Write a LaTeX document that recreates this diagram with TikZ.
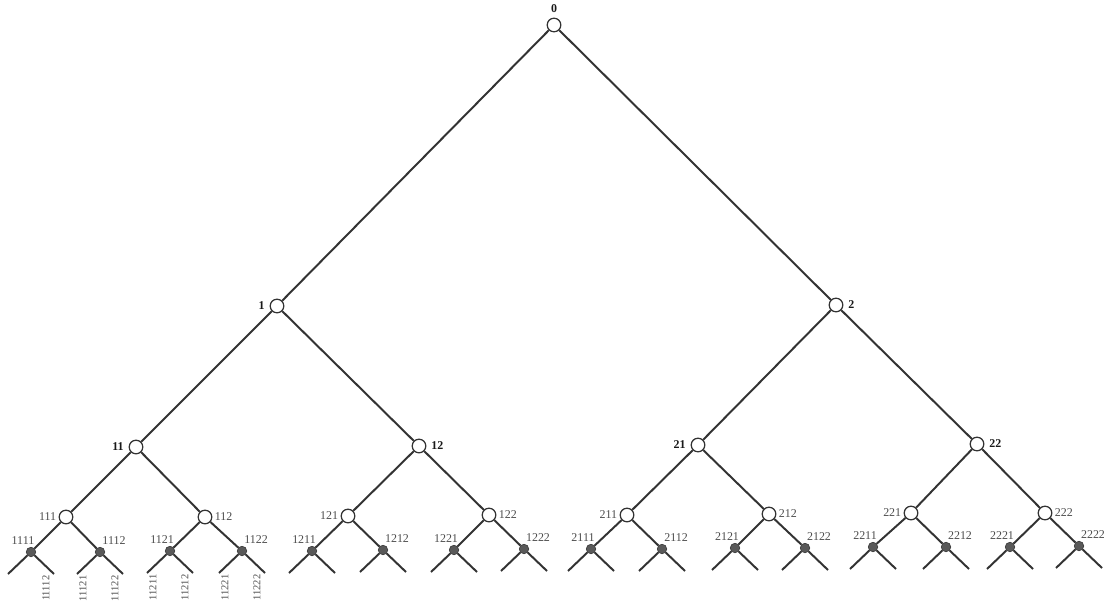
\documentclass[tikz,border=0pt]{standalone}
\usepackage{fontspec}
\setmainfont{Liberation Serif}
\usetikzlibrary{calc}

\begin{document}
\begin{tikzpicture}[
    x=0.025cm, y=-0.025cm,
    edge/.style={draw=black!80, line width=1.4pt},
    open/.style={circle, draw=black!80, line width=0.9pt, fill=white, inner sep=0pt, minimum size=0.34cm},
    dot/.style={circle, draw=black!80, fill=black!65, inner sep=0pt, minimum size=0.24cm},
    big/.style={font=\fontsize{8.5}{10}\selectfont\bfseries, text=black!90},
    small/.style={font=\fontsize{8.5}{10}\selectfont, text=black!70, inner sep=1.5pt},
    leaflbl/.style={font=\fontsize{7.5}{9}\selectfont, text=black!70, inner sep=1pt, rotate=90, anchor=east}
]
\useasboundingbox (0,0) rectangle (1104,605);

% upper levels
\node[open, label={[big]above:0}] (n0) at (554,25) {};
\node[open, label={[big]left:1}] (n1) at (277,306) {};
\node[open, label={[big]right:2}] (n2) at (836,305) {};
\node[open, label={[big]left:11}] (n11) at (136,447) {};
\node[open, label={[big]right:12}] (n12) at (419,446) {};
\node[open, label={[big]left:21}] (n21) at (698,445) {};
\node[open, label={[big]right:22}] (n22) at (977,444) {};

% level 3
\foreach \n/\x/\y/\s in {111/66/517/left, 112/205/517/right, 121/348/516/left, 122/489/515/right,
                         211/627/515/left, 212/769/514/right, 221/911/513/left, 222/1045/513/right}
  \node[open, label={[small]\s:\n}] (n\n) at (\x,\y) {};

\foreach \p/\c in {0/1, 0/2, 1/11, 1/12, 2/21, 2/22, 11/111, 11/112, 12/121, 12/122,
                   21/211, 21/212, 22/221, 22/222}
  \draw[edge] (n\p) -- (n\c);

% level 4 and leaves
\foreach \n/\p/\x/\y/\dx in {1111/111/31/552/-8, 1112/111/100/552/14, 1121/112/170/551/-8, 1122/112/242/551/14,
                             1211/121/312/551/-8, 1212/121/383/550/14, 1221/122/454/550/-8, 1222/122/524/549/14,
                             2111/211/591/549/-8, 2112/211/662/549/14, 2121/212/735/548/-8, 2122/212/805/548/14,
                             2211/221/873/547/-8, 2212/221/946/547/14, 2221/222/1010/547/-8, 2222/222/1079/546/14} {
  \node[dot] (n\n) at (\x,\y) {};
  \node[small] (t\n) at ({\x+\dx},{\y-11}) {\n};
  \coordinate (n\n1) at ({\x-23},{\y+22});
  \coordinate (n\n2) at ({\x+23},{\y+22});
  \draw[edge] (n\p) -- (n\n);
  \draw[edge] (n\n1) -- (n\n) -- (n\n2);
}

\foreach \n/\dx in {11112/-8, 11121/6, 11122/-8, 11211/6, 11212/-8, 11221/6, 11222/-8}
  \node[leaflbl] (t\n) at ($(n\n)+(\dx,0)$) {\n};

\end{tikzpicture}
\end{document}
